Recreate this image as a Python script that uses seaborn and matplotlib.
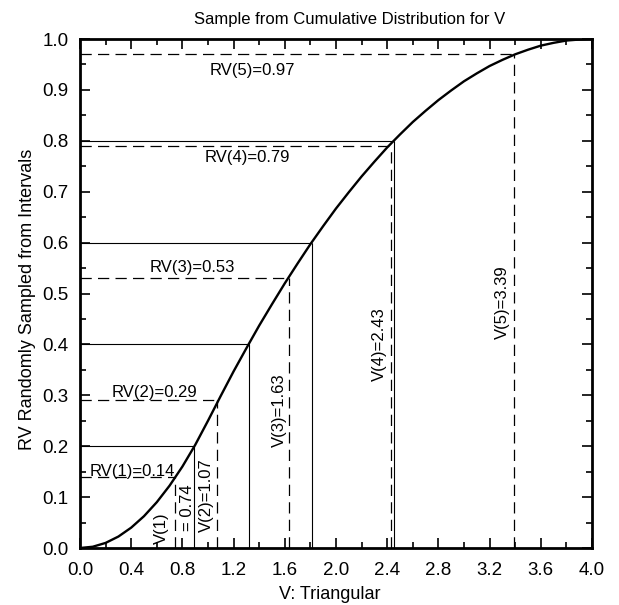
"""
Amostra da distribuição acumulada de V (triangular)
"""
import matplotlib
matplotlib.use('Agg')
import matplotlib.pyplot as plt
import seaborn as sns
import pandas as pd
from matplotlib.ticker import MultipleLocator

# curva acumulada
curva_x = [0.0, 0.1, 0.2, 0.3, 0.4, 0.5, 0.6, 0.7, 0.8, 0.9, 1.0,
           1.1, 1.2, 1.3, 1.4, 1.5, 1.6, 1.7, 1.8, 1.9, 2.0,
           2.1, 2.2, 2.3, 2.4, 2.5, 2.6, 2.7, 2.8, 2.9, 3.0,
           3.1, 3.2, 3.3, 3.4, 3.5, 3.6, 3.7, 3.8, 3.9, 4.0]
curva_y = [0.0, 0.0025, 0.01, 0.0225, 0.04, 0.0625, 0.09, 0.1225, 0.16, 0.2025, 0.25,
           0.299, 0.347, 0.3925, 0.437, 0.479, 0.52, 0.559, 0.597, 0.6325, 0.667,
           0.699, 0.73, 0.759, 0.787, 0.8125, 0.837, 0.859, 0.88, 0.899, 0.917,
           0.9325, 0.947, 0.959, 0.97, 0.979, 0.987, 0.9925, 0.997, 0.999, 1.0]

# limites dos intervalos
lim_rv = [0.2, 0.4, 0.6, 0.8]
lim_v = [0.89, 1.32, 1.81, 2.45]

# amostras
amostra_rv = [0.14, 0.29, 0.53, 0.79, 0.97]
amostra_v = [0.74, 1.07, 1.63, 2.43, 3.39]

sns.set_theme(style="ticks", rc={'text.color': 'black', 'axes.labelcolor': 'black',
                                 'xtick.color': 'black', 'ytick.color': 'black'})
plt.rcParams['font.family'] = ['Liberation Sans', 'DejaVu Sans']

fig = plt.figure(figsize=(6.19, 6.05), dpi=100)
ax = fig.add_axes([0.1292, 0.0942, 0.8272, 0.8413])

df = pd.DataFrame({'V': curva_x, 'F': curva_y})
sns.lineplot(data=df, x='V', y='F', ax=ax, color='black', linewidth=1.7)

# intervalos (linhas contínuas finas)
ax.hlines(lim_rv, 0, lim_v, colors='black', linewidth=0.8)
ax.vlines(lim_v, 0, lim_rv, colors='black', linewidth=0.8)

# amostras (tracejado)
ax.hlines(amostra_rv, 0, amostra_v, colors='black', linewidth=0.9, linestyles=(0, (9, 5)))
ax.vlines(amostra_v, 0, amostra_rv, colors='black', linewidth=0.9, linestyles=(0, (9, 5)))

fs = 12
ax.text(1.35, 0.939, 'RV(5)=0.97', ha='center', va='center', fontsize=fs)
ax.text(1.31, 0.768, 'RV(4)=0.79', ha='center', va='center', fontsize=fs)
ax.text(0.88, 0.552, 'RV(3)=0.53', ha='center', va='center', fontsize=fs)
ax.text(0.58, 0.306, 'RV(2)=0.29', ha='center', va='center', fontsize=fs)
ax.text(0.41, 0.151, 'RV(1)=0.14', ha='center', va='center', fontsize=fs)

ax.text(0.64, 0.038, 'V(1)', rotation=90, ha='center', va='center', fontsize=fs)
ax.text(0.84, 0.079, '= 0.74', rotation=90, ha='center', va='center', fontsize=fs)
ax.text(0.99, 0.104, 'V(2)=1.07', rotation=90, ha='center', va='center', fontsize=fs)
ax.text(1.555, 0.271, 'V(3)=1.63', rotation=90, ha='center', va='center', fontsize=fs)
ax.text(2.34, 0.40, 'V(4)=2.43', rotation=90, ha='center', va='center', fontsize=fs)
ax.text(3.30, 0.483, 'V(5)=3.39', rotation=90, ha='center', va='center', fontsize=fs)

ax.set_xlim(0, 4)
ax.set_ylim(0, 1)
ax.xaxis.set_major_locator(MultipleLocator(0.4))
ax.xaxis.set_minor_locator(MultipleLocator(0.2))
ax.yaxis.set_major_locator(MultipleLocator(0.1))
ax.yaxis.set_minor_locator(MultipleLocator(0.05))
ax.set_xticklabels([f'{v:.1f}' for v in ax.get_xticks()])
ax.set_yticklabels([f'{v:.1f}' for v in ax.get_yticks()])
ax.tick_params(which='both', direction='in', top=True, right=True, labelsize=13.5,
               color='black', labelcolor='black', width=1.2)
ax.tick_params(which='major', length=7)
ax.tick_params(which='minor', length=4)
ax.tick_params(axis='x', which='major', pad=10)
ax.tick_params(axis='y', which='major', pad=8)
for s in ax.spines.values():
    s.set_linewidth(2)
    s.set_color('black')
    s.set_visible(True)
ax.set_xlabel('')
ax.set_ylabel('')

fig.text(0.533, 0.018, 'V: Triangular', ha='center', va='center', fontsize=13)
fig.text(0.045, 0.505, 'RV Randomly Sampled from Intervals', ha='center', va='center',
         rotation=90, fontsize=13)
fig.text(0.565, 0.967, 'Sample from Cumulative Distribution for V', ha='center', va='center',
         fontsize=12)

fig.savefig('out.png', dpi=100)
